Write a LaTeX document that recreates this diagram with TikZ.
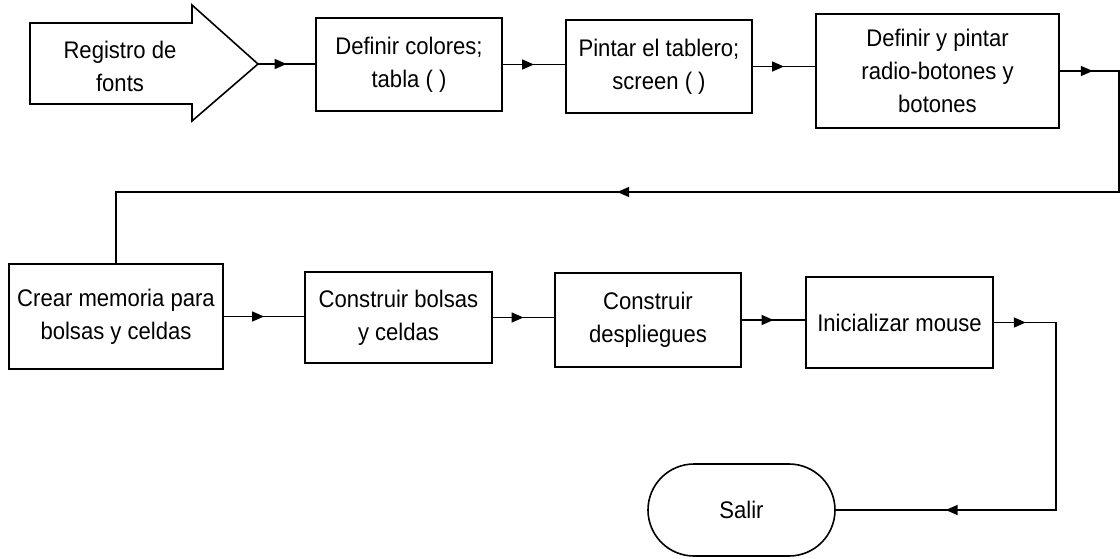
\documentclass[tikz,border=0pt]{standalone}
\usepackage{fontspec}
\setmainfont[FakeStretch=0.92]{Liberation Sans}
\usetikzlibrary{arrows.meta,decorations.markings,shapes.misc}

\begin{document}
\begin{tikzpicture}[x=1pt,y=-1pt,
  ln/.style={line width=1.6pt, line join=miter},
  blk/.style={draw, ln, align=center, inner sep=0pt,
    font=\fontsize{24}{33}\selectfont},
  txt/.style={align=center, inner sep=0pt, font=\fontsize{24}{33}\selectfont},
  tip at/.style={postaction={decorate, decoration={markings,
    mark=at position #1 with {\arrow{Triangle[length=12pt,width=10pt]}}}}},
  mid/.style={tip at=0.5}]

\useasboundingbox (0,0) rectangle (1120,558);

% entry arrow
\draw[ln] (30,23) -- (192,23) -- (192,5) -- (258,64) -- (192,121)
  -- (192,104) -- (30,104) -- cycle;
\node[txt] (reg) at (120,66) {Registro de\\fonts};
\coordinate (regtip) at (258,64);

% first row
\node[blk, minimum width=186pt, minimum height=93pt] (b1) at (409,64.5)
  {Definir colores;\\tabla ( )};
\node[blk, minimum width=186pt, minimum height=93pt] (b2) at (659,66.5)
  {Pintar el tablero;\\screen ( )};
\node[blk, minimum width=243pt, minimum height=114pt] (b3) at (937.5,71)
  {Definir y pintar\\radio-botones y\\botones};

% second row
\node[blk, minimum width=214pt, minimum height=105pt] (c1) at (116,316.5)
  {Crear memoria para\\bolsas y celdas};
\node[blk, minimum width=187pt, minimum height=91pt] (c2) at (398.5,317.5)
  {Construir bolsas\\y celdas};
\node[blk, minimum width=186pt, minimum height=94pt] (c3) at (648,320)
  {Construir\\despliegues};
\node[blk, minimum width=187pt, minimum height=91pt] (c4) at (899.5,322.5)
  {Inicializar mouse};

% end
\node[blk, rounded rectangle, minimum width=187pt, minimum height=92pt]
  (sa) at (741.5,510) {Salir};

% connectors, first row
\draw[ln, mid] (regtip) -- (regtip -| b1.west);
\draw[ln, mid] (b1.east) -- (b1.east -| b2.west);
\draw[ln, mid] (b2.east) -- (b2.east -| b3.west);

% return to the second row
\coordinate (r1) at (1119,71);
\coordinate (r2) at (116,192);
\draw[ln, tip at=33pt, tip at=682pt] (b3.east) -- (r1) |- (r2) -- (c1.north);

% connectors, second row
\draw[ln, mid] (c1.east) -- (c1.east -| c2.west);
\draw[ln, mid] (c2.east) -- (c2.east -| c3.west);
\draw[ln, mid] (c3.east) -- (c3.east -| c4.west);

% down to the exit
\coordinate (d1) at (1056,322.5);
\draw[ln, tip at=32pt, tip at=360pt] (c4.east) -- (d1) |- (sa.east);

\end{tikzpicture}
\end{document}
